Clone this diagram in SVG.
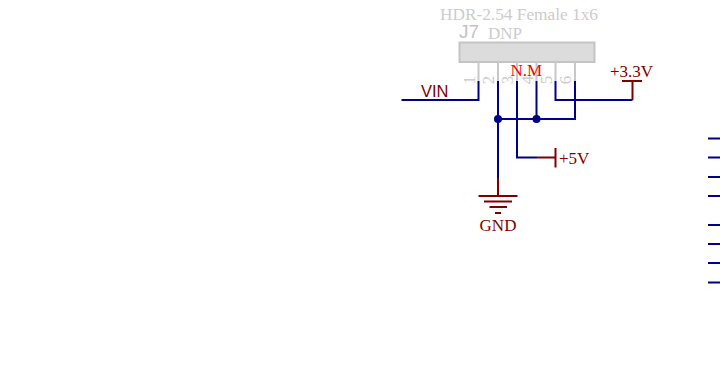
<svg xmlns="http://www.w3.org/2000/svg" width="720" height="365" viewBox="0 0 720 365">
<style>
.w{fill:none;stroke:#00008b;stroke-width:2}
.r{fill:none;stroke:#800000;stroke-width:2}
.g{fill:none;stroke:#c8c8c8;stroke-width:2}
.d{fill:#00008b;stroke:none}
text{font-family:"Liberation Serif",serif}
.t{font-size:17px;fill:#800000}
.n{font-size:17px;fill:#cccccc}
.p{font-size:17px;fill:#cccccc;text-anchor:middle}
</style>
<g id="J7">
<rect x="459.500" y="42.500" width="135" height="19.500" fill="#dcdcdc" stroke="#c4c4c4" stroke-width="2"/>
<path class="g" d="M478.500 62V81M498 62V81M517 62V81M536.500 62V81M555.500 62V81M575 62V81"/>
<text class="n" x="440" y="20" style="font-size:17.300px">HDR-2.54 Female 1x6</text>
<text x="459" y="38" style="font-family:'Liberation Sans',sans-serif;font-size:19px;fill:#c4c4c4">J7</text>
<text class="n" x="488" y="39">DNP</text>
<text class="p" transform="translate(474.500 80) rotate(-90)">1</text>
<text class="p" transform="translate(494 80) rotate(-90)">2</text>
<text class="p" transform="translate(513 80) rotate(-90)">3</text>
<text class="p" transform="translate(532.500 80) rotate(-90)">4</text>
<text class="p" transform="translate(551.500 80) rotate(-90)">5</text>
<text class="p" transform="translate(571 80) rotate(-90)">6</text>
<text x="510.500" y="76" style="font-size:17px;fill:#ff0000">N.M</text>
</g>
<g id="connectors">
<path class="w" d="M401.500 100H478.500V81"/>
<path class="w" d="M498 81V178"/>
<path class="w" d="M517 81V157.500H537"/>
<path class="w" d="M536.500 81V119"/>
<path class="w" d="M555.500 81V100H632.500"/>
<path class="w" d="M575 81V119H498"/>
<circle class="d" cx="498" cy="119" r="4"/>
<circle class="d" cx="536.500" cy="119" r="4"/>
<path class="w" d="M708 138.500H720M708 157.500H720M708 177H720M708 196H720M708 225H720M708 244H720M708 263H720M708 282.500H720"/>
</g>
<g id="vin"><text x="421" y="97" style="font-family:'Liberation Sans',sans-serif;font-size:16.500px;fill:#800000">VIN</text></g>
<g id="p33">
<path class="r" d="M632.500 100V81M622 81H642"/>
<text class="t" x="610" y="77">+3.3V</text>
</g>
<g id="p5">
<path class="r" d="M537 157.500H555.500M555.500 148V167.500"/>
<text class="t" x="559" y="164">+5V</text>
</g>
<g id="gnd">
<path class="r" d="M498 178V196M478.500 196H517.500M484 201.500H512M489.500 207H507M495 213H501"/>
<text class="t" x="498" y="231" text-anchor="middle">GND</text>
</g>
</svg>
